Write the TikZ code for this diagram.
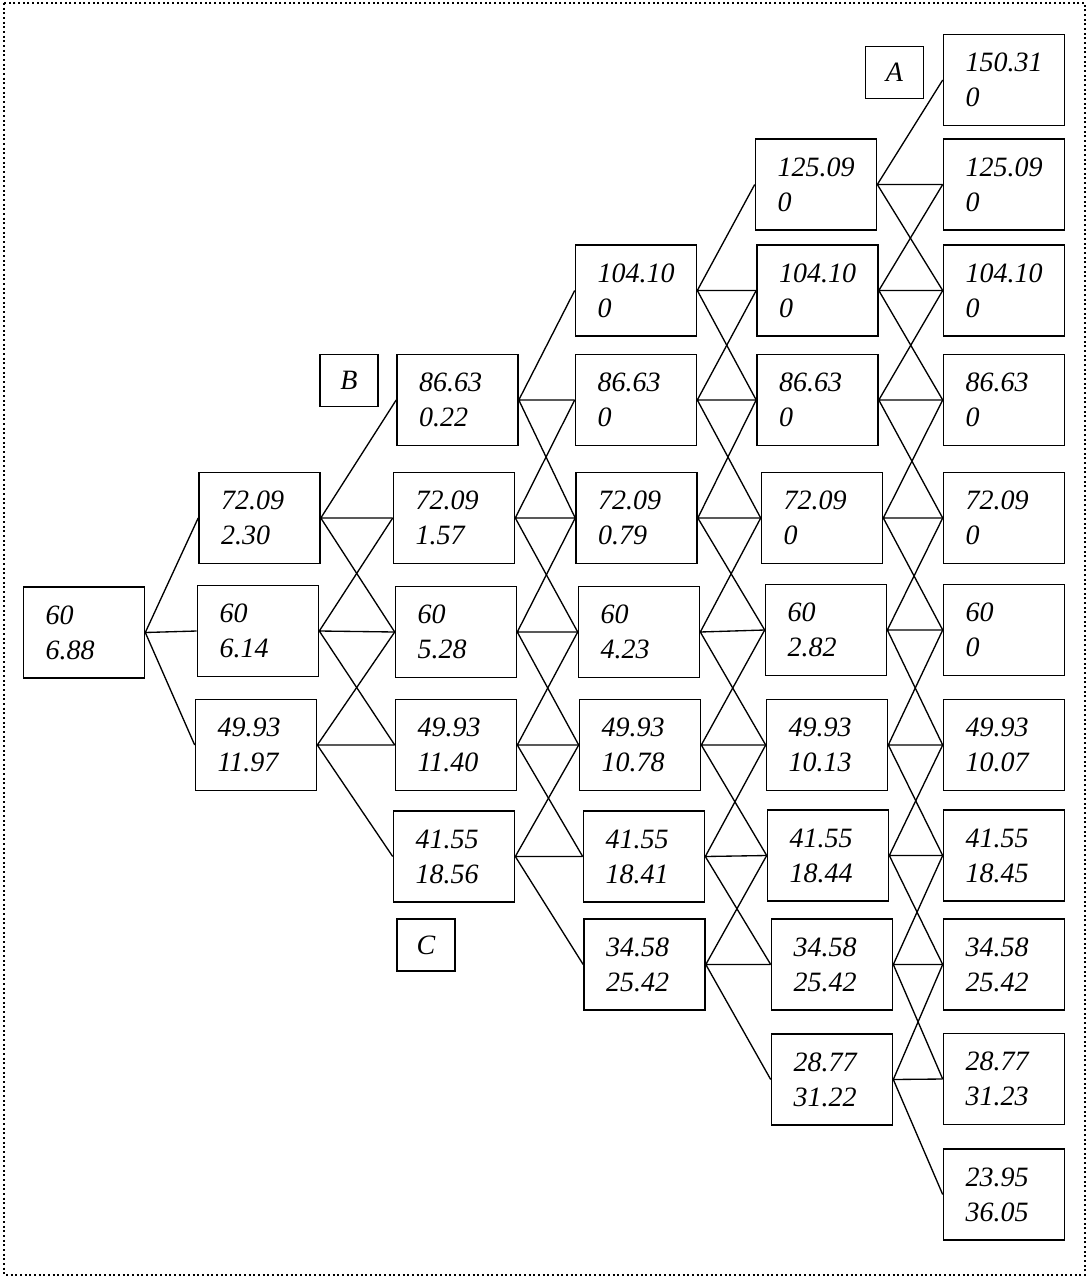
\documentclass[tikz,border=0pt]{standalone}
\usepackage{fontspec}
\setmainfont{Liberation Serif}
\usepackage{tikz}

\begin{document}
\begin{tikzpicture}[x=0.75pt,y=-0.75pt]
		\tikzset{cell/.style={draw, line width=1.2pt, minimum width=90.75pt, minimum height=68.25pt, text width=57.75pt, inner xsep=16.5pt, inner ysep=0pt, align=left, font=\fontsize{21}{26.25}\selectfont\itshape}};
		\tikzset{tag/.style={draw, line width=1.2pt, minimum width=43.5pt, minimum height=39pt, inner sep=0pt, font=\fontsize{21}{24}\selectfont\itshape}};
		\tikzset{branch/.style={line width=1pt}};
		\useasboundingbox (0,0) rectangle (1087,1277);
		\draw[dotted, line width=1.5pt] (4,3) rectangle (1085,1275);
		
		\node[cell] (n-0-5) at (84,632.5) {60\\6.88};
		
		\node[cell] (n-1-4) at (259.5,518) {72.09\\2.30};
		\node[cell] (n-1-5) at (258,631) {60\\6.14};
		\node[cell] (n-1-6) at (256,745) {49.93\\11.97};
		
		\node[cell] (n-2-3) at (457.5,400) {86.63\\0.22};
		\node[cell] (n-2-4) at (454,518) {72.09\\1.57};
		\node[cell] (n-2-5) at (456,632) {60\\5.28};
		\node[cell] (n-2-6) at (456,745) {49.93\\11.40};
		\node[cell] (n-2-7) at (454,856.5) {41.55\\18.56};
		
		\node[cell] (n-3-2) at (636,290.5) {104.10\\0};
		\node[cell] (n-3-3) at (636,400) {86.63\\0};
		\node[cell] (n-3-4) at (636.5,518) {72.09\\0.79};
		\node[cell] (n-3-5) at (639,632) {60\\4.23};
		\node[cell] (n-3-6) at (640,745) {49.93\\10.78};
		\node[cell] (n-3-7) at (644,856.5) {41.55\\18.41};
		\node[cell] (n-3-8) at (644.5,964.5) {34.58\\25.42};
		
		\node[cell] (n-4-1) at (816,184.5) {125.09\\0};
		\node[cell] (n-4-2) at (817.5,290.5) {104.10\\0};
		\node[cell] (n-4-3) at (817.5,400) {86.63\\0};
		\node[cell] (n-4-4) at (822,518) {72.09\\0};
		\node[cell] (n-4-5) at (826,630) {60\\2.82};
		\node[cell] (n-4-6) at (827,745) {49.93\\10.13};
		\node[cell] (n-4-7) at (828,855.5) {41.55\\18.44};
		\node[cell] (n-4-8) at (832,964.5) {34.58\\25.42};
		\node[cell] (n-4-9) at (832,1079.5) {28.77\\31.22};
		
		\node[cell] (n-5-0) at (1004,80) {150.31\\0};
		\node[cell] (n-5-1) at (1004,184.5) {125.09\\0};
		\node[cell] (n-5-2) at (1004,290.5) {104.10\\0};
		\node[cell] (n-5-3) at (1004,400) {86.63\\0};
		\node[cell] (n-5-4) at (1004,518) {72.09\\0};
		\node[cell] (n-5-5) at (1004,630) {60\\0};
		\node[cell] (n-5-6) at (1004,745) {49.93\\10.07};
		\node[cell] (n-5-7) at (1004,855.5) {41.55\\18.45};
		\node[cell] (n-5-8) at (1004,964.5) {34.58\\25.42};
		\node[cell] (n-5-9) at (1004,1079) {28.77\\31.23};
		\node[cell] (n-5-10) at (1004,1194.5) {23.95\\36.05};
		
		\node[tag] (tagA) at (894.5,72.5) {A};
		\node[tag] (tagB) at (349,380.5) {B};
		\node[tag] (tagC) at (426,945) {C};
		
		\draw[branch] (n-0-5.east) -- (n-1-4.west) (n-0-5.east) -- (n-1-5.west) (n-0-5.east) -- (n-1-6.west);
		
		\draw[branch] (n-1-4.east) -- (n-2-3.west) (n-1-4.east) -- (n-2-4.west) (n-1-4.east) -- (n-2-5.west);
		\draw[branch] (n-1-5.east) -- (n-2-4.west) (n-1-5.east) -- (n-2-5.west) (n-1-5.east) -- (n-2-6.west);
		\draw[branch] (n-1-6.east) -- (n-2-5.west) (n-1-6.east) -- (n-2-6.west) (n-1-6.east) -- (n-2-7.west);
		
		\draw[branch] (n-2-3.east) -- (n-3-2.west) (n-2-3.east) -- (n-3-3.west) (n-2-3.east) -- (n-3-4.west);
		\draw[branch] (n-2-4.east) -- (n-3-3.west) (n-2-4.east) -- (n-3-4.west) (n-2-4.east) -- (n-3-5.west);
		\draw[branch] (n-2-5.east) -- (n-3-4.west) (n-2-5.east) -- (n-3-5.west) (n-2-5.east) -- (n-3-6.west);
		\draw[branch] (n-2-6.east) -- (n-3-5.west) (n-2-6.east) -- (n-3-6.west) (n-2-6.east) -- (n-3-7.west);
		\draw[branch] (n-2-7.east) -- (n-3-6.west) (n-2-7.east) -- (n-3-7.west) (n-2-7.east) -- (n-3-8.west);
		
		\draw[branch] (n-3-2.east) -- (n-4-1.west) (n-3-2.east) -- (n-4-2.west) (n-3-2.east) -- (n-4-3.west);
		\draw[branch] (n-3-3.east) -- (n-4-2.west) (n-3-3.east) -- (n-4-3.west) (n-3-3.east) -- (n-4-4.west);
		\draw[branch] (n-3-4.east) -- (n-4-3.west) (n-3-4.east) -- (n-4-4.west) (n-3-4.east) -- (n-4-5.west);
		\draw[branch] (n-3-5.east) -- (n-4-4.west) (n-3-5.east) -- (n-4-5.west) (n-3-5.east) -- (n-4-6.west);
		\draw[branch] (n-3-6.east) -- (n-4-5.west) (n-3-6.east) -- (n-4-6.west) (n-3-6.east) -- (n-4-7.west);
		\draw[branch] (n-3-7.east) -- (n-4-6.west) (n-3-7.east) -- (n-4-7.west) (n-3-7.east) -- (n-4-8.west);
		\draw[branch] (n-3-8.east) -- (n-4-7.west) (n-3-8.east) -- (n-4-8.west) (n-3-8.east) -- (n-4-9.west);
		
		\draw[branch] (n-4-1.east) -- (n-5-0.west) (n-4-1.east) -- (n-5-1.west) (n-4-1.east) -- (n-5-2.west);
		\draw[branch] (n-4-2.east) -- (n-5-1.west) (n-4-2.east) -- (n-5-2.west) (n-4-2.east) -- (n-5-3.west);
		\draw[branch] (n-4-3.east) -- (n-5-2.west) (n-4-3.east) -- (n-5-3.west) (n-4-3.east) -- (n-5-4.west);
		\draw[branch] (n-4-4.east) -- (n-5-3.west) (n-4-4.east) -- (n-5-4.west) (n-4-4.east) -- (n-5-5.west);
		\draw[branch] (n-4-5.east) -- (n-5-4.west) (n-4-5.east) -- (n-5-5.west) (n-4-5.east) -- (n-5-6.west);
		\draw[branch] (n-4-6.east) -- (n-5-5.west) (n-4-6.east) -- (n-5-6.west) (n-4-6.east) -- (n-5-7.west);
		\draw[branch] (n-4-7.east) -- (n-5-6.west) (n-4-7.east) -- (n-5-7.west) (n-4-7.east) -- (n-5-8.west);
		\draw[branch] (n-4-8.east) -- (n-5-7.west) (n-4-8.east) -- (n-5-8.west) (n-4-8.east) -- (n-5-9.west);
		\draw[branch] (n-4-9.east) -- (n-5-8.west) (n-4-9.east) -- (n-5-9.west) (n-4-9.east) -- (n-5-10.west);
		
	\end{tikzpicture}
\end{document}
